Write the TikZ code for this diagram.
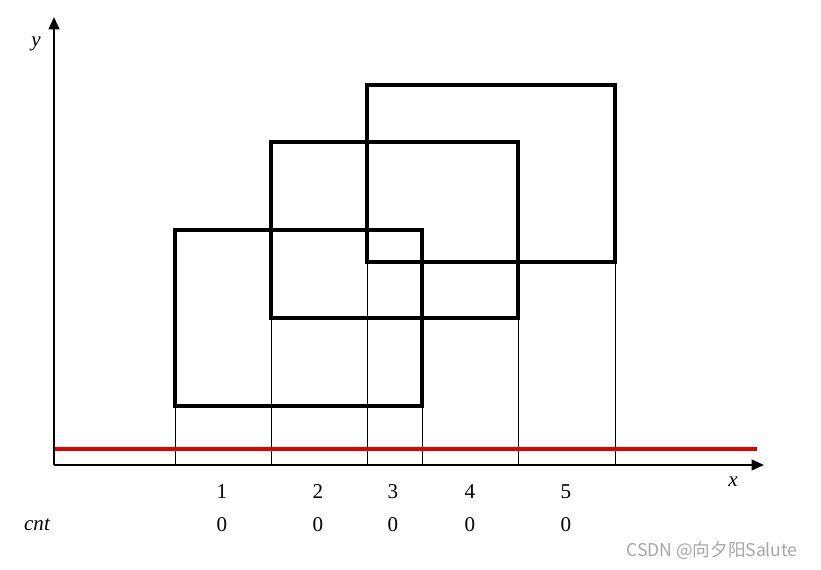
\documentclass[tikz,border=0pt]{standalone}
\usepackage{fontspec}
\setmainfont{Liberation Serif}
\newfontfamily\cjkwm{Noto Sans CJK SC}
\usetikzlibrary{arrows.meta}

\begin{document}
\begin{tikzpicture}[x=0.02cm, y=-0.02cm, >={Triangle[length=7pt,width=6pt]}]
        \useasboundingbox (0,0) rectangle (821,570);

        % --- Repères des axes ---
        \coordinate (O)    at (54, 465);             % Origine
        \coordinate (Xend) at (764, 465);            % Bout de l'axe x
        \coordinate (Yend) at (54, 17);              % Bout de l'axe y

        % ==============================================================
        % 1. RECTANGLES (bords épais)
        % ==============================================================
        \coordinate (A1) at (175, 406);  \coordinate (A2) at (422, 230);
        \coordinate (B1) at (271, 318);  \coordinate (B2) at (518, 142);
        \coordinate (C1) at (367, 262);  \coordinate (C2) at (615, 85);

        \draw[line width=2.3pt] (A1) rectangle (A2);
        \draw[line width=2.3pt] (B1) rectangle (B2);
        \draw[line width=2.3pt] (C1) rectangle (C2);

        % ==============================================================
        % 2. PROJECTIONS DES BORDS VERTICAUX SUR L'AXE x
        % ==============================================================
        \foreach \c in {A1, B1, C1} {
            \draw[thin] (\c) -- (\c |- O);
        }
        \draw[thin] (A2 |- A1) -- (A2 |- O);
        \draw[thin] (B2 |- B1) -- (B2 |- O);
        \draw[thin] (C2 |- C1) -- (C2 |- O);

        % ==============================================================
        % 3. LIGNE DE BALAYAGE (rouge)
        % ==============================================================
        \coordinate (Scan0) at (54, 449);
        \coordinate (Scan1) at (757, 449);
        \draw[red!90!black, line width=1.8pt] (Scan0) -- (Scan1);

        % ==============================================================
        % 4. AXES
        % ==============================================================
        \draw[line width=1.3pt, ->] (O) -- (Xend);
        \draw[line width=1.3pt, ->] (O) -- (Yend);
        \node[font=\large\itshape] (xlab) at (733, 482) {x};
        \node[font=\large\itshape] (ylab) at (36, 44) {y};

        % ==============================================================
        % 5. INDICES ET COMPTEURS
        % ==============================================================
        \node[font=\large\itshape] (cnt) at (37, 525) {cnt};
        \foreach \k/\px in {1/222, 2/318, 3/393, 4/470, 5/566} {
            \node[font=\large] (idx\k) at (\px, 492) {\k};
            \node[font=\large] (val\k) at (\px, 525) {0};
        }

        % Filigrane
        \node[font=\cjkwm\normalsize, text=black!35] (wm) at (712, 551) {CSDN @向夕阳Salute};
    \end{tikzpicture}
\end{document}
